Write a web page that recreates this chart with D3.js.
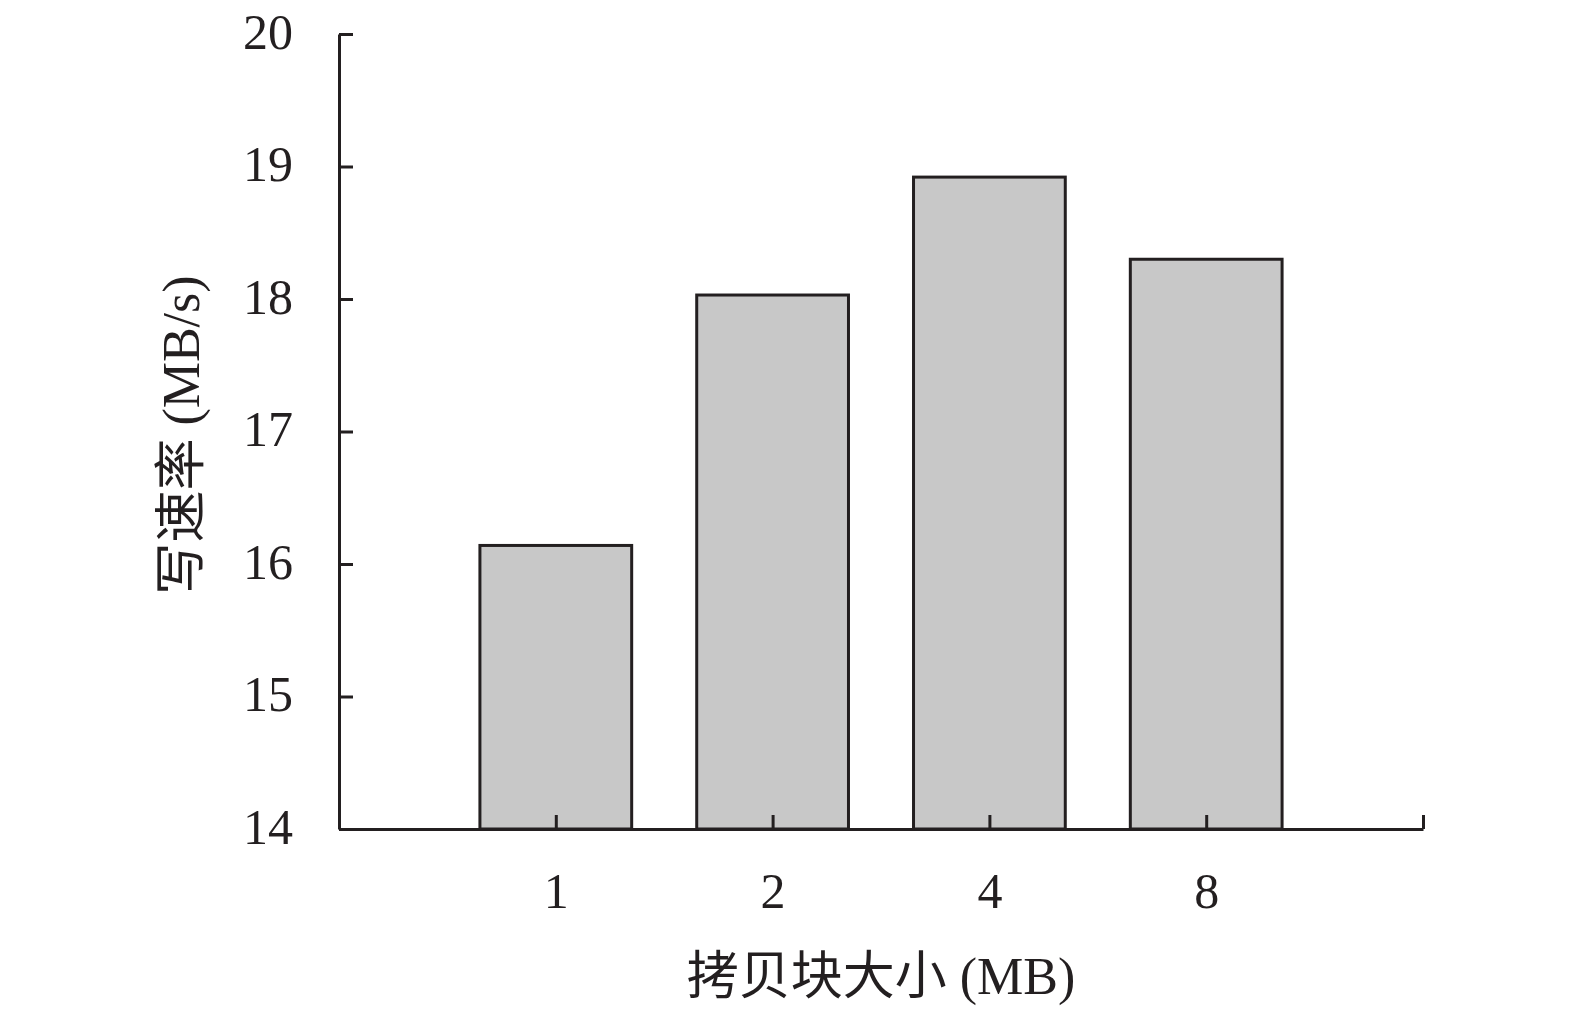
<!DOCTYPE html>
<html>
<head>
<meta charset="utf-8">
<script src="https://cdn.jsdelivr.net/npm/d3@7"></script>
<style>
  html, body { margin: 0; padding: 0; background: #fff; overflow: hidden; }
  svg { display: block; }
  text { font-family: "Liberation Serif", "Noto Sans CJK SC", serif; fill: #231f20; }
</style>
</head>
<body>
<div id="chart"></div>
<script>
var categories = ["1", "2", "4", "8"];
var values = [16.14, 18.03, 18.92, 18.30];
var yTicks = [14, 15, 16, 17, 18, 19, 20];

var width = 1575, height = 1013;
var margin = {top: 34, right: 152, bottom: 184, left: 339};
var ink = "#231f20";

var svg = d3.select("#chart").append("svg")
    .attr("width", width)
    .attr("height", height);

var g = svg.append("g")
    .attr("transform", "translate(" + margin.left + "," + margin.top + ")");

var w = width - margin.left - margin.right,
    h = height - margin.top - margin.bottom;

// categories sit at slots 1..4, axis runs one slot past each end
var x = d3.scaleLinear().domain([0, categories.length + 1]).range([0, w]);
var y = d3.scaleLinear().domain([14, 20]).range([h, 0]);
var slot = x(1) - x(0);
var barW = slot * 0.7;

// bars
g.selectAll("rect.bar")
    .data(values)
    .enter().append("rect")
    .attr("class", "bar")
    .attr("x", function(d, i) { return x(i + 1) - barW / 2; })
    .attr("y", function(d) { return y(d); })
    .attr("width", barW)
    .attr("height", function(d) { return y(14) - y(d); })
    .attr("fill", "#c8c8c8")
    .attr("stroke", ink)
    .attr("stroke-width", 3);

// y axis, ticks pointing inward
var yAxis = d3.axisRight(y).tickValues(yTicks).tickSize(14).tickSizeOuter(0).tickFormat(d3.format("d"));
var ya = g.append("g").call(yAxis);
ya.select(".domain").attr("stroke", ink).attr("stroke-width", 3);
ya.selectAll(".tick line").attr("stroke", ink).attr("stroke-width", 3);
ya.selectAll(".tick text")
    .attr("x", -46)
    .attr("y", 14)
    .attr("dy", 0)
    .attr("text-anchor", "end")
    .style("font-size", "50px");

// x axis, ticks pointing up
var xTickVals = d3.range(1, categories.length + 2);
var xAxis = d3.axisBottom(x).tickValues(xTickVals).tickSize(-14).tickSizeOuter(0)
    .tickFormat(function(d) { return categories[d - 1] || ""; });
var xa = g.append("g").attr("transform", "translate(0," + h + ")").call(xAxis);
xa.select(".domain").attr("stroke", ink).attr("stroke-width", 3);
xa.selectAll(".tick line").attr("stroke", ink).attr("stroke-width", 3);
xa.selectAll(".tick text")
    .attr("y", 79)
    .attr("dy", 0)
    .style("font-size", "50px");

// axis titles
svg.append("text")
    .attr("x", 881)
    .attr("y", 994)
    .attr("text-anchor", "middle")
    .style("font-size", "52px")
    .text("拷贝块大小 (MB)");

svg.append("text")
    .attr("transform", "translate(199,435) rotate(-90)")
    .attr("text-anchor", "middle")
    .style("font-size", "52px")
    .text("写速率 (MB/s)");
</script>
</body>
</html>
